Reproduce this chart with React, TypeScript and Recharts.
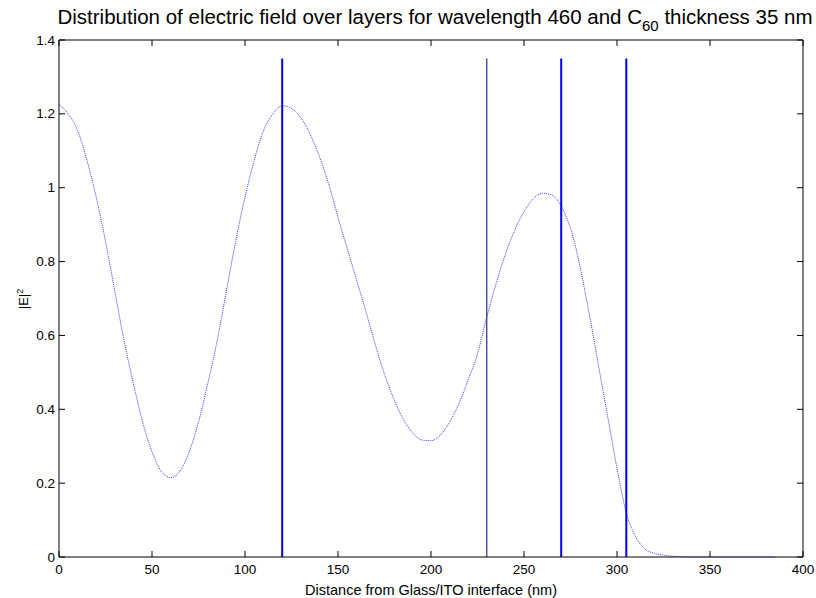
import { LineChart, Line, XAxis, YAxis, ReferenceLine } from 'recharts';

// distance from the glass/ITO interface (nm)
const distance = [
  0, 5, 10, 15, 20, 25, 30, 35, 40, 45, 50, 55, 60, 65, 70, 75, 80, 85, 90, 95, 100, 105, 110, 115, 120,
  125, 130, 135, 140, 145, 150, 155, 160, 165, 170, 175, 180, 185, 190, 195, 200, 205, 210, 215, 220, 225,
  230, 235, 240, 245, 250, 255, 260, 265, 270, 275, 280, 285, 290, 295, 300, 305, 310, 315, 320, 325, 330,
  335, 340, 350, 360, 370, 385,
];

// |E|^2
const fieldSq = [
  1.225, 1.2, 1.155, 1.075, 0.975, 0.855, 0.72, 0.585, 0.47, 0.365, 0.285, 0.232, 0.215, 0.232, 0.285, 0.365,
  0.47, 0.585, 0.72, 0.855, 0.975, 1.075, 1.155, 1.2, 1.222,
  1.215, 1.19, 1.145, 1.085, 1.01, 0.92, 0.835, 0.75, 0.665, 0.576, 0.495, 0.428, 0.374, 0.337, 0.317, 0.315,
  0.33, 0.365, 0.415, 0.48, 0.55,
  0.65, 0.74, 0.82, 0.885, 0.935, 0.97, 0.985, 0.98, 0.95, 0.89, 0.79, 0.66, 0.52, 0.38, 0.24, 0.12, 0.055,
  0.022, 0.01, 0.005, 0.002, 0.001, 0, 0, 0, 0, 0,
];

// layer boundaries (nm) and the height the markers are drawn to
const layerEdges = [120, 230, 270, 305];
const edgeTop = 1.35;

const xTicks = [0, 50, 100, 150, 200, 250, 300, 350, 400];
const yTicks = [0, 0.2, 0.4, 0.6, 0.8, 1, 1.2, 1.4];

const data = distance.map((d, i) => ({ d, e: fieldSq[i] }));

const FONT = '"Liberation Sans", Arial, Helvetica, sans-serif';
const TICK = 6;
// plot frame in chart pixels (follows from margin + axis sizes below)
const PLOT_TOP = 40;
const PLOT_BOTTOM = 557;
const PLOT_LEFT = 59;
const PLOT_RIGHT = 803;

function BottomTick(props: any) {
  const { x, payload } = props;
  return (
    <g>
      <line x1={x} x2={x} y1={PLOT_BOTTOM} y2={PLOT_BOTTOM - TICK} stroke="#000" />
      <text x={x} y={PLOT_BOTTOM + 17} textAnchor="middle" fontSize={13.5} fontFamily={FONT} fill="#000">
        {payload.value}
      </text>
    </g>
  );
}

function TopTick(props: any) {
  const { x } = props;
  return <line x1={x} x2={x} y1={PLOT_TOP} y2={PLOT_TOP + TICK} stroke="#000" />;
}

function LeftTick(props: any) {
  const { y, payload } = props;
  return (
    <g>
      <line x1={PLOT_LEFT} x2={PLOT_LEFT + TICK} y1={y} y2={y} stroke="#000" />
      <text x={PLOT_LEFT - 4} y={y + 4.5} textAnchor="end" fontSize={13.5} fontFamily={FONT} fill="#000">
        {payload.value}
      </text>
    </g>
  );
}

function RightTick(props: any) {
  const { y } = props;
  return <line x1={PLOT_RIGHT} x2={PLOT_RIGHT - TICK} y1={y} y2={y} stroke="#000" />;
}

function YLabel() {
  return (
    <text x={28} y={299} transform="rotate(-90 28 299)" textAnchor="middle" fontSize={13} fontFamily={FONT} fill="#000">
      |E|<tspan dy={-5} fontSize={9}>2</tspan>
    </text>
  );
}

export default function App() {
  return (
    <div style={{ position: 'absolute', left: 0, top: 0, width: 816, height: 598, background: '#fff' }}>
      <div
        style={{
          position: 'absolute',
          left: 35,
          top: 6,
          width: 800,
          textAlign: 'center',
          fontFamily: FONT,
          fontSize: 20.5,
          lineHeight: '22px',
          color: '#000',
          whiteSpace: 'nowrap',
        }}
      >
        Distribution of electric field over layers for wavelength 460 and C
        <sub style={{ fontSize: 15, verticalAlign: -7 }}>60</sub> thickness 35 nm
      </div>
      <LineChart width={816} height={598} data={data} margin={{ top: 39, right: 12, left: 0, bottom: 0 }}>
        <XAxis
          dataKey="d"
          type="number"
          domain={[0, 400]}
          ticks={xTicks}
          height={41}
          tickLine={false}
          axisLine={{ stroke: '#000' }}
          tick={<BottomTick />}
          interval={0}
          label={{
            value: 'Distance from Glass/ITO interface (nm)',
            position: 'insideBottom',
            offset: 3,
            fontSize: 14.5,
            fontFamily: FONT,
            fill: '#000',
          }}
        />
        <XAxis
          xAxisId="top"
          dataKey="d"
          orientation="top"
          type="number"
          domain={[0, 400]}
          ticks={xTicks}
          height={1}
          tickLine={false}
          axisLine={{ stroke: '#000' }}
          tick={<TopTick />}
          interval={0}
        />
        <YAxis
          type="number"
          domain={[0, 1.4]}
          ticks={yTicks}
          width={59}
          tickLine={false}
          axisLine={{ stroke: '#000' }}
          tick={<LeftTick />}
          interval={0}
          label={<YLabel />}
        />
        <YAxis
          yAxisId="right"
          orientation="right"
          type="number"
          domain={[0, 1.4]}
          ticks={yTicks}
          width={1}
          tickLine={false}
          axisLine={{ stroke: '#000' }}
          tick={<RightTick />}
          interval={0}
        />
        {/* invisible copy so the top/right frame axes get their ticks */}
        <Line
          xAxisId="top"
          yAxisId="right"
          dataKey="e"
          stroke="none"
          dot={false}
          activeDot={false}
          isAnimationActive={false}
        />
        <Line
          type="monotone"
          dataKey="e"
          stroke="#3a3aff"
          strokeWidth={1}
          strokeDasharray="1 1"
          dot={false}
          isAnimationActive={false}
        />
        {layerEdges.map((edge) => (
          <ReferenceLine
            key={edge}
            segment={[
              { x: edge, y: 0 },
              { x: edge, y: edgeTop },
            ]}
            stroke={edge === 230 ? '#000080' : '#0000ff'}
            strokeWidth={edge === 230 ? 1 : 2}
            ifOverflow="visible"
          />
        ))}
      </LineChart>
    </div>
  );
}
